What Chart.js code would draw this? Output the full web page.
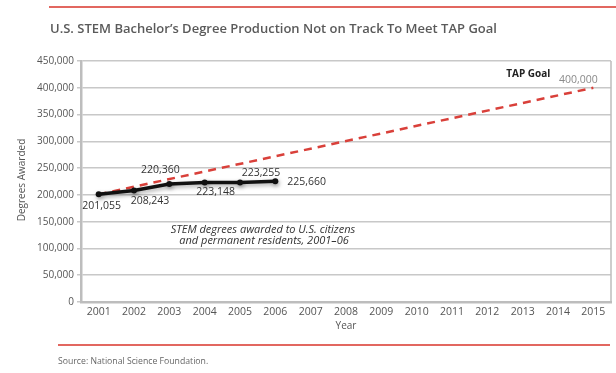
<!DOCTYPE html>
<html>
<head>
<meta charset="utf-8">
<script src="https://cdn.jsdelivr.net/npm/chart.js@4/dist/chart.umd.min.js"></script>
<style>
  html, body { margin: 0; padding: 0; background: #fff; }
  #wrap { width: 616px; height: 373px; position: relative; }
</style>
</head>
<body>
<div id="wrap"><canvas id="c" width="616" height="373"></canvas></div>
<script>
const years = ['2001','2002','2003','2004','2005','2006','2007','2008','2009','2010','2011','2012','2013','2014','2015'];
const actualDegrees = [201055, 208243, 220360, 223148, 223255, 225660, null, null, null, null, null, null, null, null, null];
const tapGoal = [201055, null, null, null, null, null, null, null, null, null, null, null, null, null, 400000];
const yTicks = [0, 50000, 100000, 150000, 200000, 250000, 300000, 350000, 400000, 450000];

const titleText = 'U.S. STEM Bachelor\u2019s Degree Production Not on Track To Meet TAP Goal';
const sourceText = 'Source: National Science Foundation.';
const noteLines = ['STEM degrees awarded to U.S. citizens', 'and permanent residents, 2001\u201306'];
const goalLabel = 'TAP Goal';

// label placement offsets relative to each point (style only)
const labelOffsets = [
  {dx: 3, dy: 12, align: 'center'},
  {dx: 16, dy: 11, align: 'center'},
  {dx: -9, dy: -14, align: 'center'},
  {dx: 11, dy: 10, align: 'center'},
  {dx: 21, dy: -9, align: 'center'},
  {dx: 12, dy: 1, align: 'left'}
];

const FONT = '"Open Sans", "Liberation Sans", sans-serif';
const fmt = v => v.toLocaleString('en-US');

const shadowPlugin = {
  id: 'shadow',
  beforeDatasetDraw(chart, args) {
    if (args.index === 0) {
      const ctx = chart.ctx;
      ctx.save();
      ctx.shadowColor = 'rgba(0,0,0,0.35)';
      ctx.shadowBlur = 4;
      ctx.shadowOffsetX = 1;
      ctx.shadowOffsetY = 2;
    }
  },
  afterDatasetDraw(chart, args) {
    if (args.index === 0) chart.ctx.restore();
  }
};

const decorPlugin = {
  id: 'decor',
  beforeDraw(chart) {
    const ctx = chart.ctx;
    ctx.save();
    ctx.fillStyle = '#fff';
    ctx.fillRect(0, 0, chart.width, chart.height);
    ctx.restore();
  },
  afterDraw(chart) {
    const ctx = chart.ctx;
    const a = chart.chartArea;
    ctx.save();
    // red rules
    ctx.strokeStyle = '#d9342b';
    ctx.lineWidth = 1.5;
    ctx.beginPath(); ctx.moveTo(49, 7); ctx.lineTo(616, 7); ctx.stroke();
    ctx.beginPath(); ctx.moveTo(58, 345); ctx.lineTo(610, 345); ctx.stroke();
    // title
    ctx.fillStyle = '#5a5a5a';
    ctx.font = '600 13px ' + FONT;
    ctx.textAlign = 'left'; ctx.textBaseline = 'middle';
    ctx.fillText(titleText, 50, 29);
    // source
    ctx.fillStyle = '#666';
    ctx.font = '8.7px ' + FONT;
    ctx.fillText(sourceText, 58, 362);
    // right border
    ctx.strokeStyle = '#bdbdbd';
    ctx.lineWidth = 1.5;
    ctx.beginPath(); ctx.moveTo(a.right, a.top); ctx.lineTo(a.right, a.bottom); ctx.stroke();
    // axis titles
    ctx.fillStyle = '#555';
    ctx.font = '10px ' + FONT;
    ctx.textAlign = 'center';
    ctx.fillText('Year', (a.left + a.right) / 2, 326);
    ctx.save();
    ctx.translate(22, 180);
    ctx.rotate(-Math.PI / 2);
    ctx.fillText('Degrees Awarded', 0, 0);
    ctx.restore();
    // data labels
    const meta = chart.getDatasetMeta(0);
    ctx.fillStyle = '#333';
    ctx.font = '10.5px ' + FONT;
    actualDegrees.forEach((v, i) => {
      if (v == null) return;
      const p = meta.data[i];
      const o = labelOffsets[i];
      ctx.textAlign = o.align;
      ctx.fillText(fmt(v), p.x + o.dx, p.y + o.dy);
    });
    // note
    ctx.font = 'italic 11px ' + FONT;
    ctx.textAlign = 'center';
    ctx.fillText(noteLines[0], 263, 230);
    ctx.fillText(noteLines[1], 264, 241);
    // goal labels
    const gm = chart.getDatasetMeta(1);
    const gp = gm.data[14];
    ctx.fillStyle = '#222';
    ctx.font = 'bold 10px ' + FONT;
    ctx.fillText(goalLabel, gp.x - 65, gp.y - 14);
    ctx.fillStyle = '#8a8a8a';
    ctx.font = '10.5px ' + FONT;
    ctx.fillText(fmt(tapGoal[14]), gp.x - 15, gp.y - 8);
    ctx.restore();
  }
};

new Chart(document.getElementById('c'), {
  type: 'line',
  data: {
    labels: years,
    datasets: [
      {
        label: 'STEM degrees',
        data: actualDegrees,
        borderColor: '#111',
        backgroundColor: '#111',
        borderWidth: 3.5,
        pointRadius: 3,
        pointBackgroundColor: '#111',
        pointBorderWidth: 0,
        tension: 0,
        order: 0
      },
      {
        label: 'TAP Goal',
        data: tapGoal,
        borderColor: '#d9403a',
        borderWidth: 2.5,
        borderDash: [8, 6],
        pointRadius: 0,
        spanGaps: true,
        tension: 0,
        order: 1
      }
    ]
  },
  options: {
    responsive: false,
    animation: false,
    devicePixelRatio: 1,
    layout: { padding: { left: 0, top: 61, right: 5, bottom: 0 } },
    plugins: { legend: { display: false }, tooltip: { enabled: false }, title: { display: false } },
    scales: {
      x: {
        offset: true,
        afterFit(s) { s.height = 71; },
        grid: { display: true, color: 'rgba(0,0,0,0)', drawTicks: false },
        border: { display: true, color: '#bdbdbd', width: 2.5 },
        ticks: { color: '#555', font: { family: FONT, size: 10.5 }, padding: 4, maxRotation: 0, autoSkip: false }
      },
      y: {
        min: 0, max: 450000,
        afterFit(s) { s.width = 81; },
        afterBuildTicks(s) { s.ticks = yTicks.map(v => ({ value: v })); },
        grid: { color: '#c8c8c8', lineWidth: 1.5, tickLength: 4 },
        border: { display: true, color: '#bdbdbd', width: 2.5 },
        ticks: { color: '#555', font: { family: FONT, size: 10 }, padding: 3, callback: v => fmt(v) }
      }
    }
  },
  plugins: [shadowPlugin, decorPlugin]
});
</script>
</body>
</html>
